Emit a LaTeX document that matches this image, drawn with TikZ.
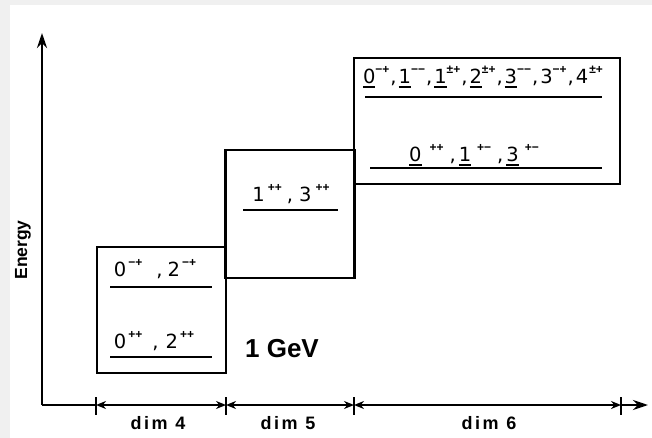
\documentclass[tikz,border=0pt]{standalone}
\usepackage{fontspec}
\setmainfont{Liberation Sans}
\newfontfamily\labfont[LetterSpace=14]{Liberation Sans}
\newfontfamily\digfont{DejaVu Sans}
\usetikzlibrary{arrows.meta}
\definecolor{bg}{HTML}{F0F0F0}
\newcommand\sps[1]{\raisebox{0.5em}{\rmfamily\fontsize{12}{12}\selectfont\bfseries #1}}
\newcommand\ul[1]{\setbox0\hbox{#1}\rlap{\rule[-4.5pt]{\wd0}{1.8pt}}\box0}
\newcommand\hs[1]{\hspace{#1pt}}
\tikzset{
  axis/.style={line width=2.5pt},
  dimline/.style={line width=2pt, {Stealth[length=10pt,width=8pt]}-{Stealth[length=10pt,width=8pt]}},
  tickmark/.style={line width=1.8pt},
  lvlbox/.style={draw, line width=2.1pt, inner sep=0pt},
  lvl/.style={line width=2.2pt},
  lvltxt/.style={inner sep=0pt, font=\digfont\fontsize{19.5}{19.5}\selectfont},
  dimlab/.style={inner sep=0pt, font=\labfont\bfseries\fontsize{18}{18}\selectfont},
}
\begin{document}
\begin{tikzpicture}[x=1pt,y=-1pt]
\fill[bg] (0,0) rectangle (652,438);
\fill[white] (10,5) rectangle (652,438);
\useasboundingbox (0,0) rectangle (652,438);

% axes
\coordinate (O) at (42,405);
\coordinate (ytip) at (42,33);
\coordinate (t1) at (96,405);
\coordinate (t2) at (226,405);
\coordinate (t3) at (354,405);
\coordinate (t4) at (621,405);
\coordinate (xtip) at (648,405);
\draw[axis, -{Stealth[length=15pt,width=10pt]}] (O) -- (ytip);
\draw[axis] (O) -- (t1);
\draw[dimline] (t1) -- (t2);
\draw[dimline] (t2) -- (t3);
\draw[dimline] (t3) -- (t4);
\draw[axis, -{Stealth[length=15pt,width=10pt]}] (t4) -- (xtip);
\foreach \t in {t1,t2,t3,t4}
  \draw[tickmark] ([yshift=8pt]\t) -- ([yshift=-10pt]\t);

\node[dimlab] (d4) at (158,423) {dim 4};
\node[dimlab] (d5) at (288,423) {dim 5};
\node[dimlab] (d6) at (489,423) {dim 6};
\node[rotate=90, inner sep=0pt, font=\bfseries\fontsize{17.5}{17.5}\selectfont] (en) at (23,250) {Energy};

% boxes
\node[lvlbox, minimum width=129, minimum height=126] (b1) at (161.5,310) {};
\node[lvlbox, minimum width=129, minimum height=128] (b2) at (290,214) {};
\node[lvlbox, minimum width=266, minimum height=126] (b3) at (487,121) {};

% box 1
\node[lvltxt] (l1a) at (155,269) {0\hs{2}\sps{−+}\hs{14},\hs{5}2\hs{2}\sps{−+}};
\draw[lvl] (110,287) -- (212,287);
\node[lvltxt] (l1b) at (154,341) {0\hs{2}\sps{++}\hs{10},\hs{7}2\hs{2}\sps{++}};
\draw[lvl] (110,357) -- (212,357);

% box 2
\node[lvltxt] (l2a) at (291,194) {1\hs{3}\sps{++}\hs{5},\hs{6}3\hs{4}\sps{++}};
\draw[lvl] (243,210) -- (338,210);

% box 3
\node[lvltxt] (l3a) at (483,77) {\ul{0}\sps{−+}\hs{1},\hs{2}\ul{1}\sps{−−}\hs{1},\hs{2}\ul{1}\sps{±+}\hs{1},\hs{2}\ul{2}\sps{±+}\hs{1},\hs{2}\ul{3}\sps{−−}\hs{1},\hs{2}3\sps{−+}\hs{1},\hs{2}4\hs{1}\sps{±+}};
\draw[lvl] (365,97) -- (602,97);
\node[lvltxt] (l3b) at (474,155) {\ul{0}\hs{8}\sps{++}\hs{6},\hs{3}\ul{1}\hs{6}\sps{+−}\hs{6},\hs{3}\ul{3}\hs{6}\sps{+−}};
\draw[lvl] (370,168) -- (602,168);

\node[inner sep=0pt, font=\bfseries\fontsize{26}{26}\selectfont] (gev) at (282,349) {1 GeV};
\end{tikzpicture}
\end{document}
